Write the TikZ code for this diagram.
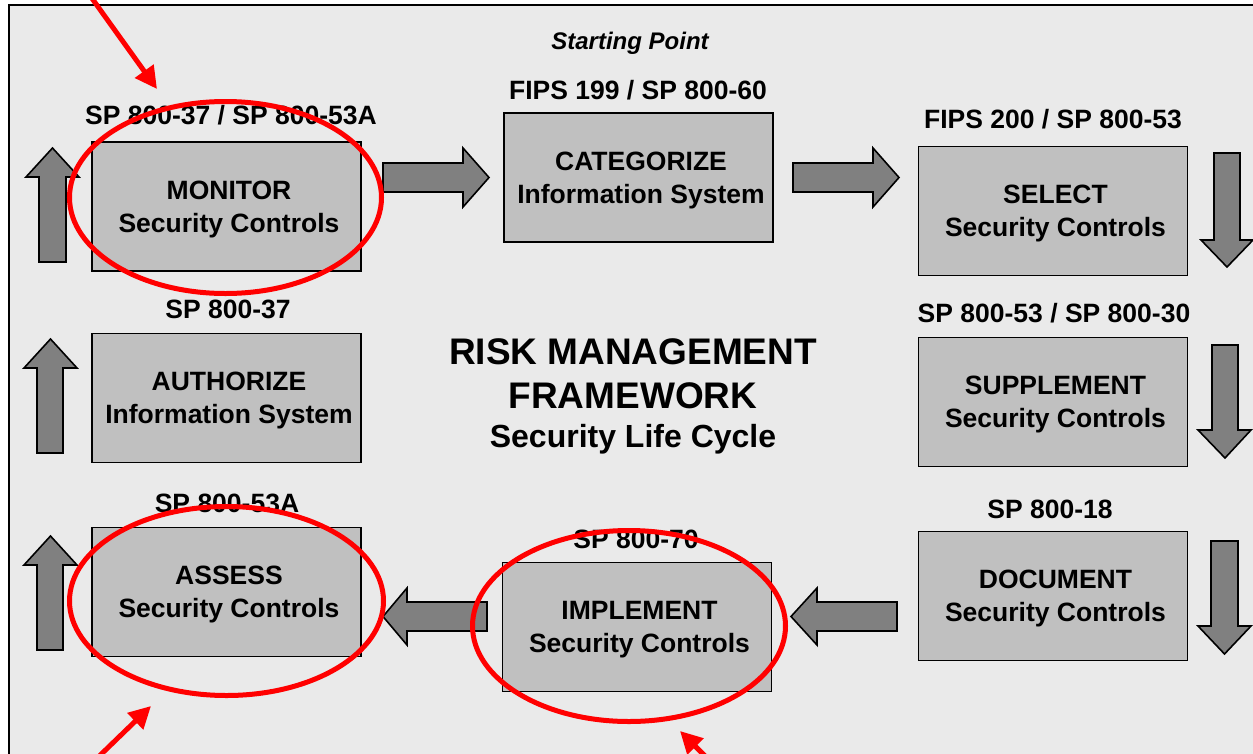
\documentclass[tikz,border=0pt]{standalone}
\usepackage{fontspec}
\setmainfont{Liberation Sans}
\usetikzlibrary{arrows.meta}
\definecolor{bg}{HTML}{EAEAEA}
\definecolor{boxgray}{HTML}{C0C0C0}
\definecolor{arrgray}{HTML}{808080}
\definecolor{redmark}{HTML}{FF0000}
\begin{document}
\begin{tikzpicture}[x=1pt,y=-1pt,
 stepbox/.style={draw=black, line width=1.6pt, fill=boxgray, minimum width=269pt, minimum height=129pt, inner sep=0pt, text depth=0pt, align=center, font=\fontsize{26.5}{33}\selectfont\bfseries},
 reflabel/.style={anchor=base, inner sep=0pt, font=\fontsize{26.5}{30}\selectfont\bfseries},
 blockarrow/.style={draw=black, line width=1.6pt, fill=arrgray, line join=miter},
 marker/.style={draw=redmark, line width=5pt},
 markarrow/.style={draw=redmark, line width=5pt, -{Triangle[length=22pt,width=22pt]}}
]
\useasboundingbox (0,0) rectangle (1253,753);
\fill[white] (0,0) rectangle (1253,753);
\draw[fill=bg, line width=2pt] (9,5) rectangle (1280,780);

% boxes
\node[stepbox] (monitor) at (226.5,206.5) {\hspace*{5pt}MONITOR\\\hspace*{5pt}Security Controls};
\node[stepbox] (categorize) at (638.5,177.5) {\hspace*{5pt}CATEGORIZE\\\hspace*{5pt}Information System};
\node[stepbox] (select) at (1053,211) {\hspace*{5pt}SELECT\\\hspace*{5pt}Security Controls};
\node[stepbox] (supplement) at (1053,402) {\hspace*{5pt}SUPPLEMENT\\\hspace*{5pt}Security Controls};
\node[stepbox] (authorize) at (226.5,398) {\hspace*{5pt}AUTHORIZE\\\hspace*{5pt}Information System};
\node[stepbox] (assess) at (226.5,592) {\hspace*{5pt}ASSESS\\\hspace*{5pt}Security Controls};
\node[stepbox] (implement) at (637,627) {\hspace*{5pt}IMPLEMENT\\\hspace*{5pt}Security Controls};
\node[stepbox] (document) at (1053,596) {\hspace*{5pt}DOCUMENT\\\hspace*{5pt}Security Controls};

% reference labels
\node[reflabel] (lmonitor) at (231,124) {SP 800-37 / SP 800-53A};
\node[reflabel] (lcategorize) at (638,99) {FIPS 199 / SP 800-60};
\node[reflabel] (lselect) at (1053,128) {FIPS 200 / SP 800-53};
\node[reflabel] (lsupplement) at (1054,322) {SP 800-53 / SP 800-30};
\node[reflabel] (lauthorize) at (228,318) {SP 800-37};
\node[reflabel] (lassess) at (227,512) {SP 800-53A};
\node[reflabel] (limplement) at (636,548) {SP 800-70};
\node[reflabel] (ldocument) at (1050,518) {SP 800-18};
\node[anchor=base, inner sep=0pt, font=\fontsize{24}{28}\selectfont\bfseries\itshape] (start) at (630,49) {Starting Point};

% centre title
\node[anchor=base, inner sep=0pt, font=\fontsize{37}{40}\selectfont\bfseries] (t1) at (633,364) {RISK MANAGEMENT};
\node[anchor=base, inner sep=0pt, font=\fontsize{37}{40}\selectfont\bfseries] (t2) at (633,408) {FRAMEWORK};
\node[anchor=base, inner sep=0pt, font=\fontsize{32}{36}\selectfont\bfseries] (t3) at (633,447) {Security Life Cycle};

% block arrows
\draw[blockarrow] (383,163) -- (463,163) -- (463,148) -- (489,177.5) -- (463,207) -- (463,192) -- (383,192) -- cycle;
\draw[blockarrow] (793,163) -- (873,163) -- (873,148) -- (899,177.5) -- (873,207) -- (873,192) -- (793,192) -- cycle;
\draw[blockarrow] (1214,153) -- (1240,153) -- (1240,240) -- (1253,240) -- (1227,267) -- (1201,240) -- (1214,240) -- cycle;
\draw[blockarrow] (1212,345) -- (1238,345) -- (1238,430) -- (1251,430) -- (1225,458) -- (1198,430) -- (1212,430) -- cycle;
\draw[blockarrow] (1211,541) -- (1238,541) -- (1238,626) -- (1251,626) -- (1224.5,654) -- (1198,626) -- (1211,626) -- cycle;
\draw[blockarrow] (897,602) -- (817,602) -- (817,588) -- (791,616.5) -- (817,645) -- (817,631) -- (897,631) -- cycle;
\draw[blockarrow] (487,602) -- (407,602) -- (407,588) -- (383,616.5) -- (407,645) -- (407,631) -- (487,631) -- cycle;
\draw[blockarrow] (37,650) -- (37,565) -- (24,565) -- (50.5,536) -- (77,565) -- (63,565) -- (63,650) -- cycle;
\draw[blockarrow] (37,453) -- (37,368) -- (24,368) -- (50.5,339) -- (77,368) -- (63,368) -- (63,453) -- cycle;
\draw[blockarrow] (39,262) -- (39,177) -- (26,177) -- (52.5,148) -- (79,177) -- (66,177) -- (66,262) -- cycle;

% red highlight ellipses
\draw[marker] (225.5,197.5) ellipse [x radius=156pt, y radius=96pt];
\draw[marker] (226.5,601) ellipse [x radius=157pt, y radius=94.5pt];
\draw[marker] (629,626) ellipse [x radius=156.5pt, y radius=95.5pt];

% red pointer arrows
\coordinate (p1s) at (86,-10);
\coordinate (p1e) at (157,89);
\coordinate (p2s) at (90,765);
\coordinate (p2e) at (151,706);
\coordinate (p3s) at (714,765);
\coordinate (p3e) at (680,731);
\draw[markarrow] (p1s) -- (p1e);
\draw[markarrow] (p2s) -- (p2e);
\draw[markarrow] (p3s) -- (p3e);
\end{tikzpicture}
\end{document}
